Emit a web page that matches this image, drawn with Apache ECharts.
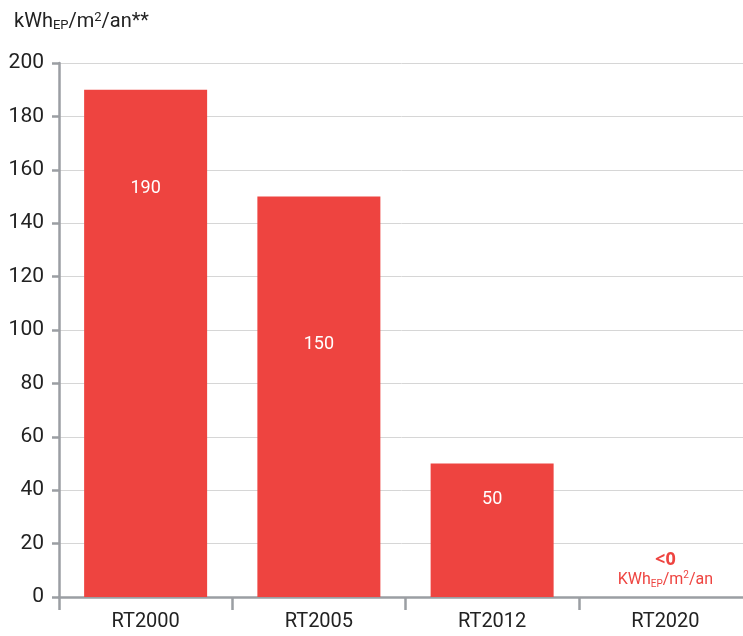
<!DOCTYPE html>
<html><head><meta charset="utf-8">
<script src="https://cdn.jsdelivr.net/npm/echarts@6/dist/echarts.min.js"></script>
<style>html,body{margin:0;padding:0;background:#fff}#c{width:743px;height:636px}</style>
</head><body><div id="c"></div>
<script>
const categories = ['RT2000', 'RT2005', 'RT2012', 'RT2020'];
const values = [190, 150, 50, 0];
const yTicks = [0, 20, 40, 60, 80, 100, 120, 140, 160, 180, 200];
const FONT = 'Roboto, "Liberation Sans", sans-serif';
const RED = '#EE4440';
const labelOffsets = [[0, -155], [0, -52], [0, -31]];

const chart = echarts.init(document.getElementById('c'));
chart.setOption({
  animation: false,
  title: {
    text: '{a|kWh}{s|EP}{a|/m}{p|2}{a|/an**}',
    left: 9, top: 6,
    textStyle: {
      fontWeight: 'normal',
      rich: {
        a: {fontFamily: FONT, fontSize: 20, color: '#222'},
        s: {fontFamily: FONT, fontSize: 13, color: '#222', verticalAlign: 'bottom', padding: [8, 0, 0, 0]},
        p: {fontFamily: FONT, fontSize: 13, color: '#222', verticalAlign: 'top', padding: [0, 0, 8, 0]}
      }
    }
  },
  grid: {left: 59, top: 63, width: 693, height: 534, containLabel: false, outerBoundsMode: 'none'},
  xAxis: {
    type: 'category',
    data: categories,
    axisLine: {lineStyle: {color: '#9b9ea3', width: 2.5}},
    axisTick: {show: true, length: 13, lineStyle: {color: '#9b9ea3', width: 2.5}},
    axisLabel: {fontFamily: FONT, fontSize: 20, color: '#222', margin: 15}
  },
  yAxis: {
    type: 'value',
    min: yTicks[0], max: yTicks[yTicks.length - 1], interval: 20,
    axisLine: {show: true, lineStyle: {color: '#9b9ea3', width: 2.5}},
    axisTick: {show: true, length: 7, lineStyle: {color: '#9b9ea3', width: 2.5}},
    axisLabel: {fontFamily: FONT, fontSize: 21, color: '#222', margin: 15},
    splitLine: {lineStyle: {color: '#d6d6d6', width: 1}}
  },
  series: [{
    type: 'bar',
    data: values.map((v, i) => {
      if (i === 3) {
        return {
          value: v,
          label: {
            show: true, position: 'top', distance: 8,
            formatter: '{b|<0}\n{u|KWh}{s|EP}{u|/m}{p|2}{u|/an}',
            rich: {
              b: {fontFamily: '"Open Sans", sans-serif', fontWeight: 'bold', fontSize: 18, color: RED, align: 'center', lineHeight: 21},
              u: {fontFamily: FONT, fontSize: 16, color: RED, lineHeight: 19},
              s: {fontFamily: FONT, fontSize: 10, color: RED, verticalAlign: 'bottom', padding: [6, 0, 0, 0]},
              p: {fontFamily: FONT, fontSize: 10, color: RED, verticalAlign: 'top', padding: [0, 0, 6, 0]}
            }
          }
        };
      }
      return {value: v, label: {offset: labelOffsets[i]}};
    }),
    barWidth: 123,
    itemStyle: {color: RED},
    label: {show: true, position: 'inside', color: '#fff', fontFamily: FONT, fontSize: 18}
  }]
});
</script></body></html>
